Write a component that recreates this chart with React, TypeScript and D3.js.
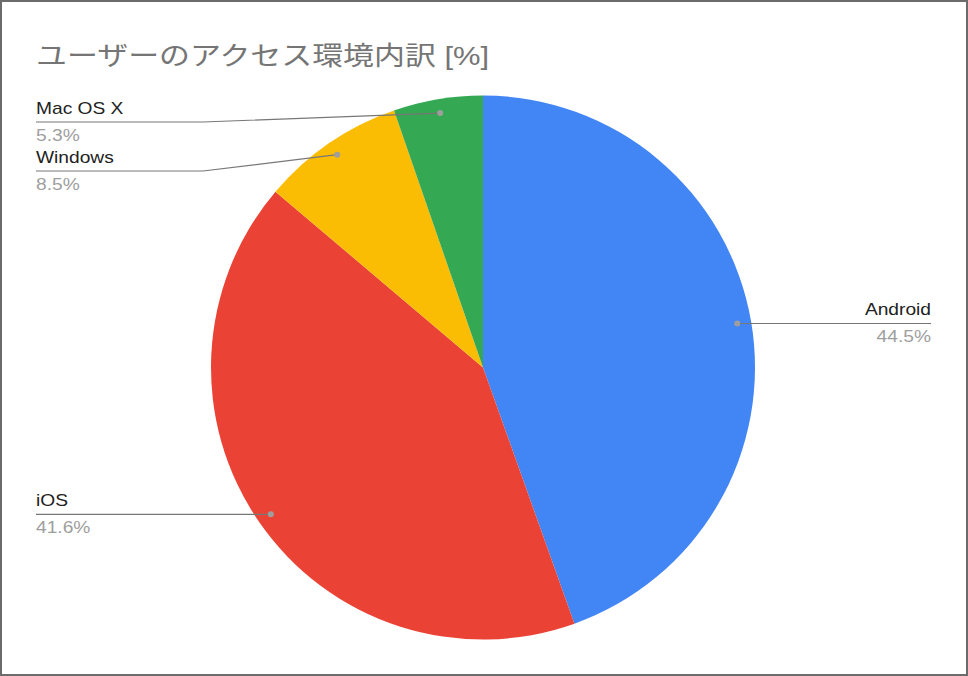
import React from "react";
import * as d3 from "d3";

const categories = ["Android", "iOS", "Windows", "Mac OS X"];
const values = [44.5, 41.6, 8.5, 5.3];
const valueLabels = ["44.5%", "41.6%", "8.5%", "5.3%"];
const colors = ["#4285F4", "#EA4335", "#FBBC04", "#34A853"];
const title = "ユーザーのアクセス環境内訳 [%]";

const W = 968;
const H = 676;
const cx = 483;
const cy = 367.5;
const R = 272;
const dotR = 258;
const leftX = 36;
const rightX = 931;
const elbowLeft = 203;
const labelGap = 49;
const topLimit = 122;
const stretch = 1.2;

export default function App() {
  const pie = d3.pie<number>().sort(null).value((d) => d);
  const arcs = pie(values);
  const arc = d3.arc<d3.PieArcDatum<number>>().innerRadius(0).outerRadius(R);
  const dotArc = d3.arc<d3.PieArcDatum<number>>().innerRadius(dotR).outerRadius(dotR);

  const items = arcs.map((a, i) => {
    const [dx, dy] = dotArc.centroid(a);
    return { i, x: cx + dx, y: cy + dy, side: dx >= 0 ? "right" : "left" };
  });

  const left = items.filter((d) => d.side === "left").sort((a, b) => a.y - b.y);
  let prev = -Infinity;
  const labelY: Record<number, number> = {};
  left.forEach((d, k) => {
    const y = k === 0 ? Math.max(d.y, topLimit) : Math.max(d.y, prev + labelGap);
    labelY[d.i] = y;
    prev = y;
  });
  items.filter((d) => d.side === "right").forEach((d) => (labelY[d.i] = d.y));

  const font = "'Liberation Sans', Arial, 'Noto Sans CJK JP', sans-serif";

  return (
    <svg
      width={W}
      height={H}
      style={{ position: "absolute", left: 0, top: 0, display: "block" }}
      xmlns="http://www.w3.org/2000/svg"
    >
      <rect x={0} y={0} width={W} height={H} fill="#ffffff" />
      <rect x={1} y={1} width={W - 2} height={H - 2} fill="none" stroke="#6b6b6b" strokeWidth={2} />
      <text
        transform={`translate(36,65) scale(1.19,1)`}
        fontFamily={font}
        fontSize={26}
        fill="#757575"
      >
        {title}
      </text>
      <g transform={`translate(${cx},${cy})`}>
        {arcs.map((a, i) => (
          <path key={i} d={arc(a) || ""} fill={colors[i]} />
        ))}
      </g>
      {items.map((d) => {
        const ly = labelY[d.i];
        const isLeft = d.side === "left";
        const pts = isLeft
          ? [
              [leftX, ly],
              [elbowLeft, ly],
              [d.x, d.y],
            ]
          : [
              [d.x, d.y],
              [rightX, ly],
            ];
        const line = d3.line()(pts as [number, number][]) || "";
        const tx = isLeft ? leftX : rightX;
        const anchor = isLeft ? "start" : "end";
        return (
          <g key={d.i}>
            <path d={line} fill="none" stroke="#777777" strokeWidth={1.2} />
            <circle cx={d.x} cy={d.y} r={3} fill="#9e9e9e" />
            <text
              transform={`translate(${tx},${ly - 8}) scale(${stretch},1)`}
              textAnchor={anchor}
              fontFamily={font}
              fontSize={16}
              fill="#222222"
            >
              {categories[d.i]}
            </text>
            <text
              transform={`translate(${tx},${ly + 19}) scale(${stretch},1)`}
              textAnchor={anchor}
              fontFamily={font}
              fontSize={16}
              fill="#9e9e9e"
            >
              {valueLabels[d.i]}
            </text>
          </g>
        );
      })}
    </svg>
  );
}
